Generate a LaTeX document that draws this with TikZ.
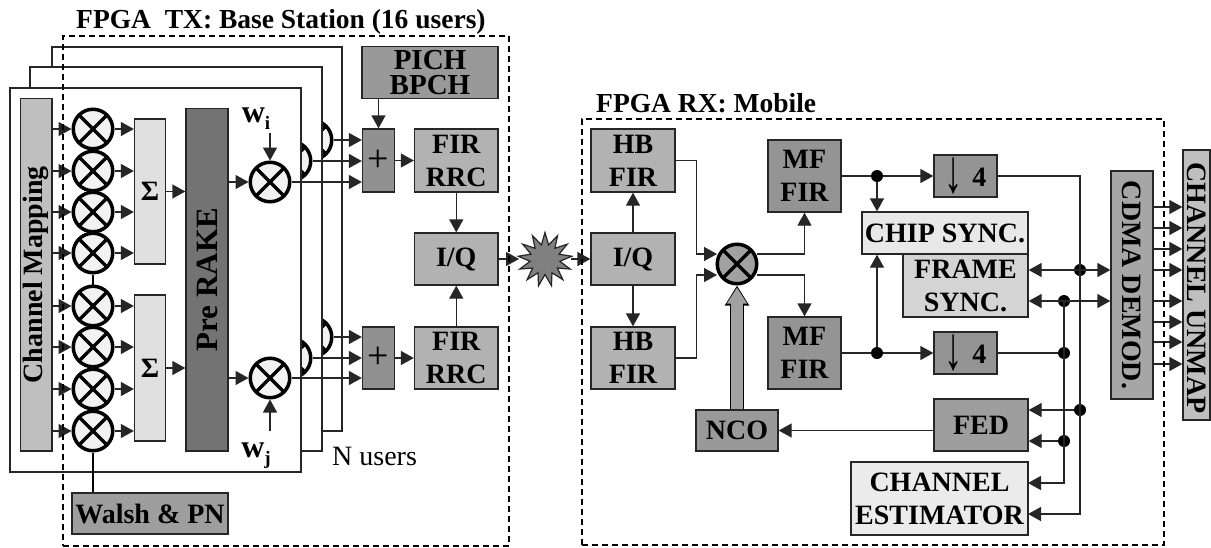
\documentclass[tikz,border=0pt]{standalone}
\usepackage{fontspec}
\setmainfont{Liberation Serif}
\usetikzlibrary{arrows.meta,shapes.geometric}
\tikzset{
      block/.style={
        draw=black!85,
        line width=1.3pt,
        inner sep=0pt,
        align=center,
        font=\fontsize{28}{33}\selectfont\bfseries
      },
      userframe/.style={
        draw=black!85,
        fill=white,
        line width=1.3pt,
        inner sep=0pt
      },
      fpgazone/.style={
        draw=black,
        dashed,
        dash pattern=on 6pt off 4pt,
        line width=1.8pt,
        inner sep=0pt
      },
      mixer/.style={
        circle,
        draw=black,
        fill=black!5,
        line width=3.5pt,
        minimum size=39.5pt,
        inner sep=0pt,
        path picture={
          \draw[line width=3.5pt] (path picture bounding box.north west) -- (path picture bounding box.south east);
          \draw[line width=3.5pt] (path picture bounding box.south west) -- (path picture bounding box.north east);
        }
      },
      junction/.style={
        circle,
        fill=black,
        minimum size=12pt,
        inner sep=0pt
      },
      wire/.style={draw=black!85, line width=1.3pt},
      flow/.style={wire, -{Triangle[length=13pt,width=14pt]}},
      twoway/.style={wire, {Triangle[length=13pt,width=14pt]}-{Triangle[length=13pt,width=14pt]}},
      title/.style={anchor=base west, inner sep=0pt, font=\fontsize{27.5}{32}\selectfont\bfseries}
    }

\begin{document}
\begin{tikzpicture}[x=1pt,y=-1pt]
    \useasboundingbox (0,0) rectangle (1211,547);

    \node[userframe, minimum width=290pt, minimum height=384pt] (framec) at (197,239) {};
    \node[mixer] (mixic) at (312,140) {};
    \node[mixer] (mixjc) at (312,337) {};
    \node[userframe, minimum width=292pt, minimum height=384pt] (frameb) at (176,259) {};
    \node[mixer] (mixib) at (291,161) {};
    \node[mixer] (mixjb) at (291,358) {};
    \node[userframe, minimum width=291pt, minimum height=384pt] (framea) at (155.5,280) {};

    \node[block, fill=black!25, rotate=90, minimum width=352.5pt, minimum height=31.5pt] (chanmap) at (36.25,274.75) {Channel Mapping};
    \node[mixer] (mixa) at (93,129) {};
    \node[mixer] (mixb) at (93,171) {};
    \node[mixer] (mixc) at (93,212) {};
    \node[mixer] (mixd) at (93,253) {};
    \node[mixer] (mixe) at (93,306) {};
    \node[mixer] (mixf) at (93,347) {};
    \node[mixer] (mixg) at (93,389) {};
    \node[mixer] (mixh) at (93,431) {};
    \node[block, fill=black!12, minimum width=31pt, minimum height=145pt] (sumup) at (150,191.5) {Σ};
    \node[block, fill=black!12, minimum width=31pt, minimum height=146pt] (sumdown) at (150,368) {Σ};
    \node[block, fill=black!55, rotate=90, minimum width=342.5pt, minimum height=42pt, font=\fontsize{31}{32}\selectfont\bfseries] (rake) at (207,279.75) {Pre RAKE};
    \node[mixer] (mixi) at (270,182) {};
    \node[mixer] (mixj) at (270,378) {};
    \node[block, draw=none, font=\fontsize{32}{32}\selectfont\bfseries] (wi) at (256,119) {w\raisebox{-7pt}{\fontsize{19}{19}\selectfont i}};
    \node[block, draw=none, font=\fontsize{32}{32}\selectfont\bfseries] (wj) at (256,456) {w\raisebox{-7pt}{\fontsize{19}{19}\selectfont j}};
    \coordinate (wiend) at (270,133);
    \coordinate (wjend) at (270,431);
    \node[block, fill=black!38, minimum width=156pt, minimum height=41pt] (walsh) at (150,513.5) {Walsh \& PN};
    \node[anchor=base west, inner sep=0pt, font=\fontsize{28}{32}\selectfont] (nusers) at (332,465) {N users};

    \node[block, fill=black!40, minimum width=136pt, minimum height=52pt, font=\fontsize{29}{25}\selectfont\bfseries] (pich) at (430,72.5) {PICH\\BPCH};
    \node[block, fill=black!43, minimum width=32pt, minimum height=63pt, font=\fontsize{38}{38}\selectfont] (plusup) at (378.5,160.5) {+};
    \node[block, fill=black!43, minimum width=32pt, minimum height=62pt, font=\fontsize{38}{38}\selectfont] (plusdown) at (378.5,358) {+};
    \node[block, fill=black!30, minimum width=83.5pt, minimum height=63pt] (firup) at (456.25,160.5) {FIR\\RRC};
    \node[block, fill=black!30, minimum width=83.5pt, minimum height=62pt] (firdown) at (456.25,358) {FIR\\RRC};
    \node[block, fill=black!30, minimum width=83.5pt, minimum height=52pt] (iqtx) at (456.25,259) {I/Q};
    \node[star, star points=13, star point ratio=1.8, draw=black!85, fill=black!50, line width=1.2pt, minimum size=54pt, inner sep=0pt] (channel) at (545,259.5) {};
    \coordinate (channelin) at (519,259);
    \coordinate (channelout) at (571,259);

    \node[block, fill=black!30, minimum width=84pt, minimum height=63pt] (hbup) at (633,160.5) {HB\\FIR};
    \node[block, fill=black!30, minimum width=84pt, minimum height=52pt] (iqrx) at (633,259) {I/Q};
    \node[block, fill=black!30, minimum width=84pt, minimum height=62pt] (hbdown) at (633,358) {HB\\FIR};
    \node[mixer, fill=black!37] (mixrx) at (737,264) {};
    \node[block, fill=black!42, minimum width=73pt, minimum height=72pt] (mfup) at (804.5,176) {MF\\FIR};
    \node[block, fill=black!42, minimum width=73pt, minimum height=72pt] (mfdown) at (804.5,353) {MF\\FIR};
    \node[block, fill=black!40, minimum width=82pt, minimum height=41pt] (nco) at (737,430.5) {NCO};
    \node[block, fill=black!17, minimum width=125pt, minimum height=63pt] (framesync) at (965.5,285.5) {FRAME\\SYNC.};
    \node[block, fill=black!9, minimum width=166pt, minimum height=42pt] (chipsync) at (945,233) {CHIP SYNC.};
    \node[block, fill=black!42, minimum width=63pt, minimum height=42pt] (fourup) at (965.5,176) {\raisebox{-6pt}{\scalebox{1.3}[2.2]{↓}}\,\,4};
    \node[block, fill=black!42, minimum width=63pt, minimum height=42pt] (fourdown) at (965.5,353) {\raisebox{-6pt}{\scalebox{1.3}[2.2]{↓}}\,\,4};
    \node[block, fill=black!38, minimum width=94pt, minimum height=52pt] (fed) at (981,425) {FED};
    \node[block, fill=black!8, minimum width=177pt, minimum height=73pt] (estimator) at (939.5,498.5) {CHANNEL\\ESTIMATOR};
    \node[block, fill=black!35, rotate=-90, minimum width=228pt, minimum height=42pt] (demod) at (1132,285) {CDMA DEMOD.};
    \node[block, fill=black!25, rotate=-90, minimum width=270pt, minimum height=27pt] (unmap) at (1196.5,285) {\hspace{6pt}CHANNEL UNMAP};

    \node[junction] (dotup) at (877,176) {};
    \node[junction] (dotdown) at (877,353) {};
    \node[junction] (busa) at (1080,270) {};
    \node[junction] (busb) at (1080,410) {};
    \node[junction] (busc) at (1064,301) {};
    \node[junction] (busd) at (1064,353) {};
    \node[junction] (buse) at (1064,441) {};
    \coordinate (esta) at (1028,483);
    \coordinate (estb) at (1028,514);

    \draw[flow] (chanmap.south |- mixa) -- (mixa.west);
    \draw[flow] (chanmap.south |- mixb) -- (mixb.west);
    \draw[flow] (chanmap.south |- mixc) -- (mixc.west);
    \draw[flow] (chanmap.south |- mixd) -- (mixd.west);
    \draw[flow] (chanmap.south |- mixe) -- (mixe.west);
    \draw[flow] (chanmap.south |- mixf) -- (mixf.west);
    \draw[flow] (chanmap.south |- mixg) -- (mixg.west);
    \draw[flow] (chanmap.south |- mixh) -- (mixh.west);
    \draw[flow] (mixa.east) -- (mixa -| sumup.west);
    \draw[flow] (mixb.east) -- (mixb -| sumup.west);
    \draw[flow] (mixc.east) -- (mixc -| sumup.west);
    \draw[flow] (mixd.east) -- (mixd -| sumup.west);
    \draw[flow] (mixe.east) -- (mixe -| sumdown.west);
    \draw[flow] (mixf.east) -- (mixf -| sumdown.west);
    \draw[flow] (mixg.east) -- (mixg -| sumdown.west);
    \draw[flow] (mixh.east) -- (mixh -| sumdown.west);
    \draw[line width=2pt] (mixd.south) -- (mixe.north);
    \draw[line width=2pt] (mixh.south) -- (mixh |- walsh.north);
    \draw[flow] (sumup.east) -- (sumup -| rake.north);
    \draw[flow] (sumdown.east) -- (sumdown -| rake.north);
    \draw[flow] (rake.south |- mixi) -- (mixi.west);
    \draw[flow] (rake.south |- mixj) -- (mixj.west);
    \draw[flow] (wiend) -- (mixi.north);
    \draw[flow] (wjend) -- (mixj.south);

    \draw[flow] (mixic.east) -- (mixic -| plusup.west);
    \draw[flow] (mixib.east) -- (mixib -| plusup.west);
    \draw[flow] (mixi.east) -- (mixi -| plusup.west);
    \draw[flow] (mixjc.east) -- (mixjc -| plusdown.west);
    \draw[flow] (mixjb.east) -- (mixjb -| plusdown.west);
    \draw[flow] (mixj.east) -- (mixj -| plusdown.west);
    \draw[flow] (pich.south -| plusup.north) -- (plusup.north);
    \draw[flow] (plusup.east) -- (firup.west);
    \draw[flow] (plusdown.east) -- (firdown.west);
    \draw[flow] (firup.south) -- (iqtx.north);
    \draw[flow] (firdown.north) -- (iqtx.south);
    \draw[flow] (iqtx.east) -- (channelin);
    \draw[flow] (channelout) -- (iqrx.west);

    \draw[flow] (iqrx.north) -- (hbup.south);
    \draw[flow] (iqrx.south) -- (hbdown.north);
    \draw[flow] (hbup.east) -- ++(21,0) |- (717,254);
    \draw[flow] (hbdown.east) -- ++(21,0) |- (717,275);
    \draw[flow] (757,254) -| (mfup.south);
    \draw[flow] (757,275) -| (mfdown.north);
    \draw[draw=black, line width=14.5pt, -{Triangle[length=20pt,width=23pt]}] (nco.north) -- (mixrx.south);
    \draw[draw=black!37, line width=11.5pt, -{Triangle[length=16pt,width=19pt]}, shorten >=2pt] (nco.north) -- (mixrx.south);
    \draw[wire] (mfup.east) -- (dotup);
    \draw[flow] (dotup) -- (fourup.west);
    \draw[wire] (mfdown.east) -- (dotdown);
    \draw[flow] (dotdown) -- (fourdown.west);
    \draw[flow] (dotup) -- (dotup |- chipsync.north);
    \draw[flow] (dotdown) -- (dotdown |- chipsync.south);
    \draw[flow] (fourup.east) -| (busa.center) -- (busb.center) |- (estb);
    \draw[wire] (fourdown.east) -- (busd);
    \draw[flow] (busc.center) -- (buse.center) |- (esta);
    \draw[twoway] (busa -| framesync.east) -- (busa -| demod.south);
    \draw[twoway] (busc -| framesync.east) -- (busc -| demod.south);
    \draw[flow] (busb) -- (busb -| fed.east);
    \draw[flow] (buse) -- (buse -| fed.east);
    \draw[flow] (fed.west |- nco.east) -- (nco.east);

    \draw[flow] (demod.north |- 0,207) -- (unmap.south |- 0,207);
    \draw[flow] (demod.north |- 0,228) -- (unmap.south |- 0,228);
    \draw[flow] (demod.north |- 0,249) -- (unmap.south |- 0,249);
    \draw[flow] (demod.north |- 0,270) -- (unmap.south |- 0,270);
    \draw[flow] (demod.north |- 0,301) -- (unmap.south |- 0,301);
    \draw[flow] (demod.north |- 0,322) -- (unmap.south |- 0,322);
    \draw[flow] (demod.north |- 0,342) -- (unmap.south |- 0,342);
    \draw[flow] (demod.north |- 0,364) -- (unmap.south |- 0,364);

    \node[fpgazone, minimum width=446pt, minimum height=510pt] (txzone) at (286,291) {};
    \node[fpgazone, minimum width=582pt, minimum height=426pt] (rxzone) at (873,332) {};
    \node[title] (txtitle) at (76,28) {FPGA\ \ TX: Base Station (16 users)};
    \node[title] (rxtitle) at (596,112) {FPGA RX: Mobile};
\end{tikzpicture}
\end{document}
